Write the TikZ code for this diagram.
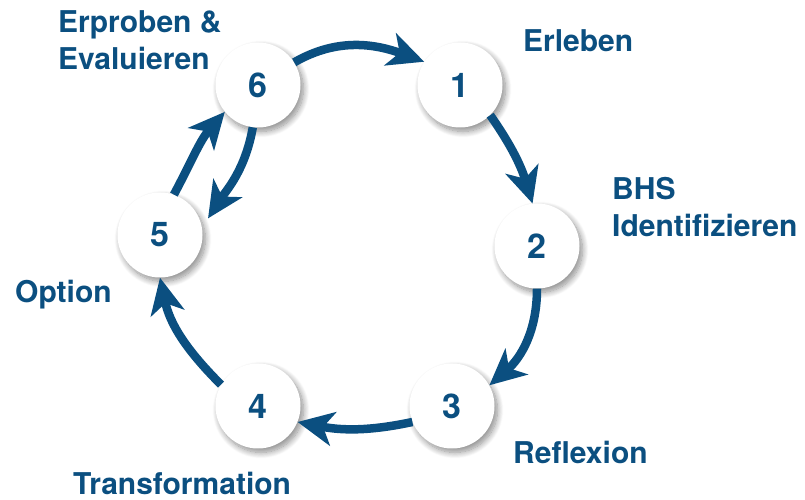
\documentclass[tikz,border=0pt]{standalone}
\usepackage{fontspec}
\setmainfont{TeX Gyre Heros}
\usetikzlibrary{arrows.meta,shadows.blur}
\definecolor{cblue}{HTML}{0B4F80}
\tikzset{
  stepcircle/.style={circle, fill=white, minimum size=85pt, inner sep=0pt,
    text=cblue, font=\fontsize{34}{34}\selectfont\bfseries,
    blur shadow={shadow xshift=3pt, shadow yshift=-4pt, shadow blur radius=6pt,
      shadow blur steps=12, shadow opacity=45}},
  lbl/.style={anchor=base west, inner sep=0pt, text=cblue,
    font=\fontsize{30}{37}\selectfont\bfseries},
  arr/.style={draw=cblue, line width=8.5pt,
    -{Stealth[length=36pt, width=34pt, inset=10pt, fill=cblue]}}
}
\begin{document}
\begin{tikzpicture}[x=1pt,y=1pt]
\useasboundingbox (0,0) rectangle (805,500);
% nodes
\node[stepcircle] (n6) at (258,415) {6};
\node[stepcircle] (n1) at (460,415) {1};
\node[stepcircle] (n2) at (537,254) {2};
\node[stepcircle] (n3) at (452,94) {3};
\node[stepcircle] (n4) at (258,94) {4};
\node[stepcircle] (n5) at (160,265) {5};
% labels
\node[lbl] (l6a) at (58,467) {Erproben \&};
\node[lbl] (l6b) at (58,430) {Evaluieren};
\node[lbl] (l1) at (523,448) {Erleben};
\node[lbl] (l2a) at (612,300) {BHS};
\node[lbl] (l2b) at (612,263) {Identifizieren};
\node[lbl] (l3) at (513,36) {Reflexion};
\node[lbl] (l4) at (73,5) {Transformation};
\node[lbl] (l5) at (15,197) {Option};
% arrows
\draw[arr] (n6.32) to[out=30, in=160] (n1.147);
\draw[arr] (n1.-45) to[out=-55, in=107] (n2.96);
\draw[arr] (n2.-90) to[out=-90, in=41] (n3.29);
\draw[arr] (n3.202) to[out=192, in=-11] (n4.-22);
\draw[arr] (n4.150) to[out=135, in=-78] (n5.-90);
\draw[arr] (n5.71) to[out=62, in=229] (n6.219);
\draw[arr, shorten >=11pt] (n6.-97) to[out=-100, in=57] (n5.10);
\end{tikzpicture}
\end{document}
